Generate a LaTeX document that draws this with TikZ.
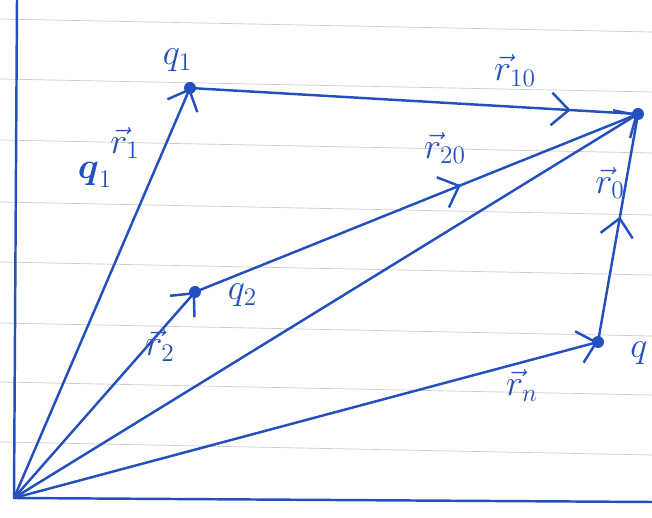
\documentclass[tikz,border=0pt]{standalone}
\usepackage{xcolor}
\usepackage{amsmath}
\usetikzlibrary{arrows.meta}
\usetikzlibrary{decorations.markings}
\definecolor{ink}{RGB}{35,80,190}

\begin{document}
\begin{tikzpicture}[line width=1.4pt, color=ink, font=\huge,
barb/.style={-{Straight Barb[length=3.5mm,width=6.5mm]}},
midarrow/.style={postaction={decorate}, decoration={markings,
  mark=at position #1 with {\arrow{Straight Barb[length=3.5mm,width=6.5mm]}}}}]
\useasboundingbox (0,0) rectangle (13.04,10.36);

% ruled paper
\foreach \y in {9.98,8.78,7.56,6.32,5.12,3.90,2.72,1.52}{
\draw[gray!40, line width=0.4] (0,\y) -- (13.04,\y-0.26);
}

% points
\coordinate (O) at (0.28,0.40);
\coordinate (ytop) at (0.34,10.36);
\coordinate (xend) at (13.04,0.32);
\coordinate (q1) at (3.80,8.60);
\coordinate (q2) at (3.90,4.52);
\coordinate (P) at (12.76,8.08);
\coordinate (qn) at (11.96,3.52);

% axes
\draw (ytop) -- (O) -- (xend);

% position vectors
\draw[barb] (O) -- (q1);
\draw[barb] (O) -- (q2);
\draw[barb] (O) -- (qn);
\draw[barb] (O) -- (P);
\draw[midarrow=0.85] (q1) -- (P);
\draw[midarrow=0.6] (q2) -- (P);
\draw[midarrow=0.55] (qn) -- (P);

\foreach \p in {q1,q2,P,qn}{
\fill (\p) circle(0.12);
}

% labels
\node (lq1) at (3.55,9.15) {$q_1$};
\node (lQ1) at (1.90,6.86) {$\boldsymbol{q}_1$};
\node (lq2) at (4.85,4.45) {$q_2$};
\node (lqn) at (12.78,3.30) {$q$};
\node (lr1) at (2.50,7.50) {$\vec{r}_1$};
\node (lr2) at (3.20,3.45) {$\vec{r}_2$};
\node (lr10) at (10.30,8.95) {$\vec{r}_{10}$};
\node (lr20) at (8.90,7.40) {$\vec{r}_{20}$};
\node (lr0) at (12.20,6.70) {$\vec{r}_0$};
\node (lrn) at (10.44,2.65) {$\vec{r}_n$};

\end{tikzpicture}
\end{document}
